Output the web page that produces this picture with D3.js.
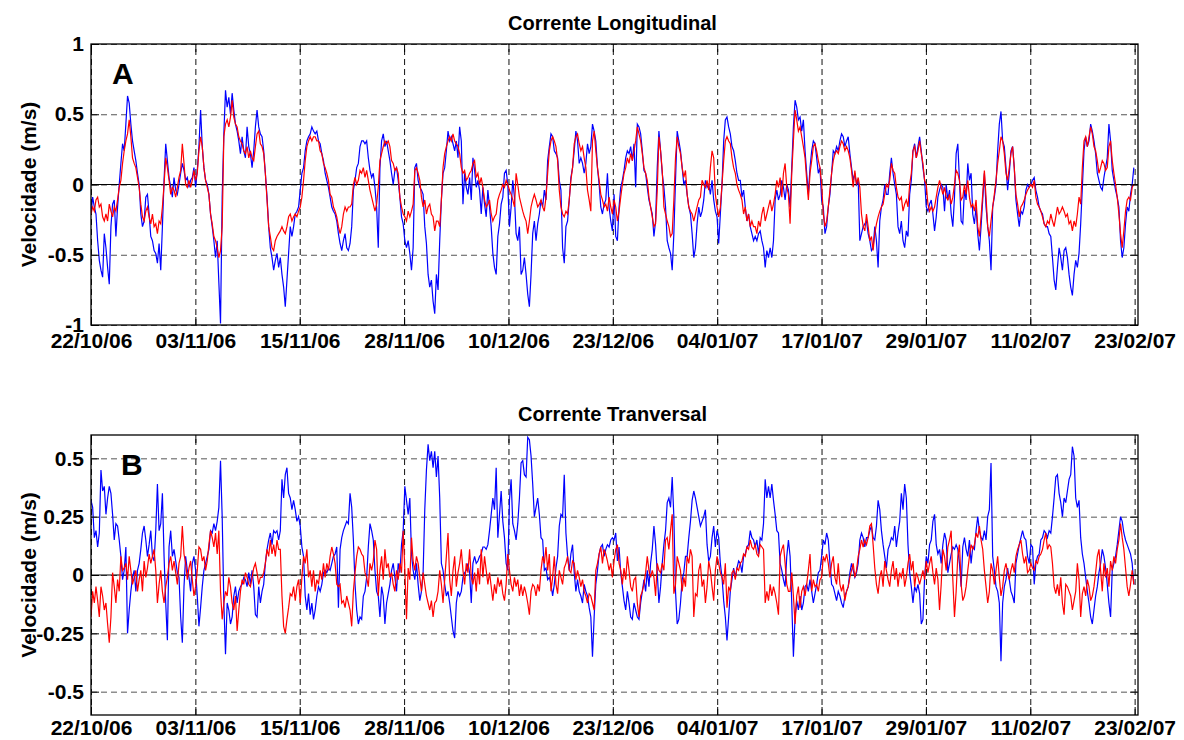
<!DOCTYPE html>
<html>
<head>
<meta charset="utf-8">
<script src="https://cdn.jsdelivr.net/npm/d3@7"></script>
<style>
  body { margin: 0; background: #fff; }
  text { font-family: "Liberation Sans", Arial, Helvetica, sans-serif; font-weight: bold; fill: #000; }
</style>
</head>
<body>
<div id="chart"></div>
<script>
// time axis: days since 22/10/06; series sampled every ~4.7 h (0.1973 day)
const sampleStepDays = 0.1973;
const tickStepDay = 12.4;
const dateLabels = ["22/10/06", "03/11/06", "15/11/06", "28/11/06", "10/12/06", "23/12/06",
  "04/01/07", "17/01/07", "29/01/07", "11/02/07", "23/02/07"];

// velocities in cm/s (blue and red records), drawn in m/s
const longBlue = [
  -21,-9,-16,-21,-40,-54,-61,-66,-35,-45,-59,-71,-30,-14,-11,-37,-16,0,15,29,
  24,43,63,58,43,31,24,17,8,0,-21,-30,-26,-9,-7,-21,-37,-40,-47,-49,
  -56,-42,-61,-30,3,29,17,5,-2,-9,5,-4,-7,0,8,15,10,3,5,-2,
  3,5,12,-2,10,27,53,27,12,3,0,-7,-21,-30,-40,-52,-40,-70,-99,-9,
  36,67,55,62,50,65,53,43,38,31,22,34,24,19,41,27,22,12,24,41,53,41,36,
  34,24,8,-9,-30,-45,-52,-61,-54,-49,-59,-52,-64,-73,-87,-68,-49,-30,-37,-30,
  -21,-19,-16,-4,8,12,24,31,34,36,41,38,36,38,31,29,22,17,8,3,
  -2,-9,-16,-19,-21,-26,-35,-42,-47,-40,-35,-45,-47,-42,-30,-4,3,12,15,27,
  31,31,29,31,19,10,5,8,-2,-16,-45,12,31,36,27,31,24,17,8,0,
  10,12,3,-9,-23,-28,-40,-45,-40,-49,-61,-45,12,15,3,-2,-4,-7,-30,-42,
  -64,-73,-68,-83,-92,-64,
  -75,-40,-11,8,12,24,38,31,34,29,24,31,19,41,31,-14,8,-2,-7,5,
  -11,19,10,-2,3,-4,-21,-2,-14,-23,-4,-16,-30,-49,-59,-64,-37,-28,-14,-9,
  8,10,0,-30,-16,3,-9,-35,-40,-30,-64,-61,-52,-64,-78,-87,-64,-35,-26,-40,
  -28,-21,-11,-16,-4,-11,17,27,36,34,24,22,19,3,-4,-45,-56,-30,-26,-11,
  5,12,24,38,31,15,19,15,8,15,29,22,27,43,38,31,12,0,-16,-21,
  -14,-11,8,-16,-26,-33,
  -7,-37,-40,-16,-2,3,10,19,24,22,27,17,29,-2,43,41,36,24,10,8,
  -2,-11,-16,-21,-37,-26,12,38,24,8,-2,-16,-40,-45,-49,-61,-35,3,38,31,
  24,12,0,3,-7,-16,-21,-35,-52,-45,-28,-16,-23,-19,-11,3,-2,0,-7,3,
  -11,-19,-23,-42,-21,0,31,46,48,41,36,27,24,17,8,3,3,-9,-4,-16,
  -26,-21,-30,-35,-40,-37,-40,-35,-33,-40,-45,-59,-47,-52,-45,-52,-40,-11,-4,-11,
  -7,3,-2,-11,0,-4,
  -16,12,41,60,55,46,48,38,46,24,8,-7,12,24,31,29,19,8,12,-11,
  -16,-35,-30,-16,-7,8,24,22,27,24,31,36,34,27,31,34,22,12,3,8,
  0,3,-40,-35,-30,-28,-26,-35,-40,-47,-45,-30,-40,-59,-26,-16,-11,0,-7,-7,
  8,19,8,0,-7,-30,-35,-26,-40,-45,-33,-37,-7,3,24,29,19,27,34,24,
  12,3,-16,-19,-14,-11,-21,-33,-23,-9,-4,0,-2,-19,0,-11,-4,-21,-30,-9,
  22,29,3,-26,-28,-4,
  -11,15,3,8,-21,-28,-16,-35,-47,-30,-11,8,-16,-30,-40,-61,-16,-9,0,24,
  43,52,31,27,12,-4,8,24,27,12,-11,-21,-30,-19,-21,-16,-4,0,-2,0,
  3,5,-4,-9,-16,-19,-21,-28,-30,-30,-35,-37,-52,-68,-75,-59,-45,-52,-61,-47,
  -45,-52,-64,-73,-79,-64,-54,-59,-49,-28,-2,24,34,27,31,43,38,31,22,8,
  3,-2,-4,5,12,19,43,31,10,3,-4,-9,-16,-40,-52,-45,-28,-16,-19,-7,
  0,12
];
const longRed = [
  -21,-16,-19,-11,-9,-16,-14,-23,-26,-21,-26,-14,-19,-23,-16,-19,-11,-2,3,15,
  24,31,36,46,34,19,15,12,5,-2,-14,-23,-26,-19,-16,-23,-28,-21,-30,-28,
  -35,-26,-28,-16,0,19,12,3,-7,-2,-4,-9,-2,5,10,29,15,0,-2,3,
  -2,3,10,3,8,24,34,27,12,3,-2,-7,-21,-28,-37,-40,-45,-52,-47,-30,
  34,43,46,41,48,60,48,43,41,34,31,29,24,22,27,19,24,19,17,27,36,38,29,
  27,22,8,-11,-30,-37,-45,-47,-40,-37,-35,-33,-30,-33,-35,-30,-23,-21,-26,-23,
  -21,-23,-19,-16,-9,3,17,27,31,34,31,34,34,31,31,24,22,15,12,8,
  3,-7,-9,-16,-19,-23,-30,-35,-30,-21,-16,-19,-16,-16,-14,0,5,0,3,10,
  8,12,5,10,3,-4,-9,-14,-19,-14,-2,17,22,27,31,29,31,27,17,15,
  10,12,8,-9,-16,-21,-23,-26,-19,-23,-19,-14,10,12,8,3,-9,-16,-11,-21,
  -16,-14,-21,-23,-33,-26,
  -26,-30,-11,12,22,27,31,34,31,36,31,29,27,22,12,8,10,3,5,8,
  10,15,17,5,8,0,5,-2,-11,-16,-14,-11,-21,-26,-23,-21,-11,-7,-4,0,
  -2,3,0,-4,-7,-11,-16,8,0,-9,-14,-19,-23,-26,-35,-26,-16,-11,-7,-11,
  -16,-14,-11,-16,-19,-9,8,24,31,34,31,27,17,-4,-16,-21,-23,-19,-21,-11,
  3,12,29,34,36,29,24,27,19,12,-4,-11,-19,31,38,24,12,3,-7,-11,
  -16,-14,-19,-9,-16,-21,
  -11,-16,-26,-19,-9,0,8,12,19,15,22,17,24,31,41,36,31,22,12,8,
  3,-9,-16,-23,-30,-28,-4,34,24,10,-16,-21,-26,-30,-37,-35,-11,19,34,27,
  22,12,5,10,-7,-16,-19,-21,-26,-21,-16,-11,-9,3,0,-2,3,-4,12,24,
  19,-7,-16,-23,-16,0,17,31,34,31,29,19,12,8,0,-4,-7,-11,-21,-16,
  -26,-21,-30,-26,-30,-30,-35,-26,-30,-21,-16,-26,-21,-16,-11,-19,-14,-7,3,-2,
  5,-9,8,15,-2,-7,
  -28,8,31,53,46,38,41,34,27,19,3,-11,8,17,27,29,24,17,12,0,
  -21,-30,-26,-16,-4,8,17,22,24,22,27,31,29,24,27,24,19,10,-2,10,
  0,5,-2,-21,-30,-33,-21,-30,-40,-37,-47,-35,-28,-23,-19,-16,-14,-7,0,-2,
  3,15,10,8,-2,-9,-11,-9,-19,-14,-11,-16,0,8,24,27,19,24,31,22,
  15,3,0,-14,-19,-16,-19,-16,-9,-2,3,-2,-7,-2,-9,-11,-7,-14,-9,0,
  10,8,3,-11,-9,0,
  -7,3,-9,-16,-14,-19,-11,-30,-37,-23,-7,10,-9,-30,-37,-26,-16,-7,3,15,
  24,34,31,22,8,3,12,22,27,12,-7,-14,-23,-16,-14,-11,-7,-4,-2,0,
  -2,3,-9,-14,-16,-19,-23,-28,-30,-26,-28,-21,-26,-30,-23,-16,-21,-19,-16,-19,
  -23,-21,-28,-26,-33,-26,-30,-21,-9,-14,12,31,34,27,34,41,36,27,24,17,
  8,12,17,15,10,12,27,31,17,8,0,-9,-21,-35,-45,-33,-19,-11,-9,-11,
  -2,0
];
const transBlue = [
  32,29,16,19,12,18,45,36,38,26,33,38,35,26,15,22,21,15,8,-2,
  2,12,-25,-15,-7,-1,2,-7,2,5,11,18,21,15,8,13,19,8,6,19,
  39,19,22,35,8,-12,-28,12,19,8,11,6,1,-1,-18,-29,-5,8,2,-1,
  -7,5,8,2,-9,-22,-14,-5,2,5,8,11,19,18,22,19,23,29,49,25,
  -12,-34,-12,-15,-21,-18,-9,-5,-12,-7,-5,-4,-1,-2,-5,1,-4,2,-5,-17,-18,-5,-12,
  -7,-4,5,11,15,18,13,19,18,19,15,19,41,33,43,46,35,33,28,32,
  28,23,25,21,12,8,-9,-15,-8,-17,-12,-19,-15,-9,-5,-7,-4,1,2,1,
  3,2,5,8,9,12,-14,11,16,19,21,23,22,35,29,15,-4,-15,-21,-18,
  -19,-9,-7,-1,12,22,19,15,2,-7,-9,-18,-5,-9,-21,-12,-8,-4,2,5,
  -1,-7,5,1,13,19,38,32,26,33,9,2,-2,5,-4,-11,-7,1,28,45,
  56,49,53,46,53,42,
  51,33,5,2,-4,-9,-7,-12,-18,-24,-27,-12,-7,-9,-7,-1,1,2,5,1,
  -12,5,8,5,6,8,9,12,12,11,13,19,26,33,28,46,16,26,36,23,
  16,5,2,32,41,22,19,15,22,33,48,49,43,42,59,58,51,39,25,29,
  33,26,16,15,2,3,-2,-1,-4,-9,-4,3,8,21,26,25,43,18,8,2,
  9,13,1,-7,-2,-7,-9,-12,-4,-7,-9,-14,-18,-35,-18,-4,2,9,12,13,
  8,11,13,12,15,16,
  15,18,6,12,1,-5,-11,-15,-7,-12,-18,-19,-12,-15,-18,-19,-12,-7,-2,-7,
  2,-5,5,11,21,13,1,-12,-5,5,13,19,31,33,29,42,25,-7,-21,-19,
  -12,-2,1,8,8,16,23,32,36,33,29,25,21,23,25,28,13,6,8,16,
  21,12,19,16,5,-1,-11,-18,-28,-18,-7,-2,3,-1,3,6,5,1,8,9,
  12,13,19,16,15,12,15,9,16,15,22,41,33,38,33,39,32,26,19,18,
  5,2,-2,-5,8,15,
  8,-12,-35,-18,-11,-15,-9,-15,-12,-5,-4,-7,-2,-7,-12,-8,-4,1,2,8,
  15,13,18,15,5,-4,-5,-8,-11,-7,-9,-12,-14,-9,-7,-5,1,5,2,-1,
  1,5,15,18,16,12,16,16,19,21,16,15,21,32,28,19,13,8,3,11,
  13,16,15,21,12,18,23,35,28,39,33,13,1,-5,-12,-5,-7,-4,-8,-21,
  -19,-1,8,5,13,15,23,26,13,9,11,5,13,18,15,1,5,9,12,11,
  13,11,5,-5,12,16,
  11,8,15,5,12,11,19,25,19,16,15,19,15,25,28,48,8,2,-5,-7,
  -12,-37,-12,-5,-2,3,-2,-7,-9,-12,5,9,13,16,19,16,15,8,5,13,
  12,-4,5,8,9,15,16,19,18,16,19,18,25,33,42,43,35,31,25,33,
  31,36,41,43,55,51,33,29,32,16,9,5,-1,-7,-12,-18,-21,-15,-9,-5,
  1,5,11,8,3,-4,-12,-18,2,5,8,13,19,25,23,18,15,13,11,9,
  5,-4
];
const transRed = [
  -18,-7,-12,-5,-11,-18,-5,-9,-15,-12,-21,-29,-18,1,-5,-12,-2,-7,8,2,
  3,5,-2,8,2,-4,-1,2,-7,-2,2,-7,6,-1,3,9,5,8,11,2,
  -12,-4,2,-7,-12,-5,-1,5,8,2,6,1,-4,5,8,21,9,5,-2,3,
  6,-2,-9,-5,2,12,11,6,8,2,6,13,19,16,12,18,9,19,-7,-19,
  -12,-7,-9,-1,-5,-12,-15,-9,-24,-15,-7,-2,-4,1,-1,-4,-5,-1,3,5,1,-4,-1,
  -1,1,5,11,8,15,9,13,8,15,11,11,-9,-22,-25,-19,-14,-8,-9,-5,
  -11,-5,-2,-12,-1,8,5,11,-1,2,-5,2,-7,-2,-4,2,-2,5,-1,5,
  2,8,12,9,5,-4,-5,-4,-12,-11,-14,-9,-12,-15,-22,-7,1,8,12,11,
  9,8,1,-1,-5,5,2,6,15,11,-9,2,8,-2,11,3,5,-1,1,-4,
  -7,2,-2,5,1,19,2,-19,3,-2,16,6,2,8,5,-1,-7,1,-4,-9,
  -12,-15,-11,-18,-12,-11,
  -7,2,-4,-12,-2,8,18,-2,-9,2,8,-5,1,5,11,2,-4,5,1,11,
  -1,-4,1,-7,3,-4,11,-1,8,2,-4,1,-5,-11,-4,-8,-1,-5,-2,-8,
  -11,-4,9,2,-4,-7,-1,-5,-2,-9,-4,-9,-5,-8,-12,-17,-7,-4,-5,-9,
  -4,-7,2,8,5,12,2,9,-7,-1,8,-4,-8,2,-1,-4,3,5,8,2,
  1,6,5,-2,2,-1,-5,-2,-7,-9,-12,-8,-9,-12,-15,2,5,9,12,5,
  11,9,6,2,5,-1,
  6,11,13,5,2,-4,3,-2,8,2,-5,-7,-2,-1,-12,-18,-9,-7,-4,1,
  8,2,-1,2,-1,-9,5,2,1,5,2,15,16,11,19,26,-8,-4,8,5,
  2,-7,-1,-5,8,5,11,8,-18,-8,-9,2,5,-5,-2,-12,-5,6,2,-5,
  -11,2,8,5,1,-1,-4,5,-14,-5,-7,1,2,-2,3,2,5,6,9,8,
  12,11,15,12,11,13,9,8,13,12,11,-12,-7,-11,-4,-9,-5,-8,-12,-17,
  8,11,13,5,-4,-7,
  -7,1,-9,-21,-9,-5,-14,-7,-5,-9,-4,2,9,-7,-2,-5,-4,-7,-2,-1,
  8,6,9,5,-1,5,8,-1,-4,5,-4,-7,-4,-11,-7,-5,-1,2,5,-1,
  2,8,11,15,12,15,13,16,21,22,13,3,-4,-8,-1,2,-5,6,2,-2,
  -5,2,6,-2,3,-5,1,-1,3,-5,-1,5,9,2,6,-5,1,-1,-4,-1,
  2,-2,6,1,5,8,1,-4,3,-2,-15,-4,11,8,2,12,15,19,-2,-18,
  -7,8,13,-4,-11,-9,
  -5,2,8,13,11,13,18,16,21,15,11,2,-5,-12,-7,5,2,-4,2,8,
  -1,-9,-5,2,5,1,-2,2,5,1,8,11,13,15,9,5,8,1,2,5,
  3,2,6,5,8,9,11,15,18,11,13,12,5,-5,-8,-4,-9,-1,-12,-17,
  -4,-5,-7,-9,-15,-11,-7,5,-2,-18,-8,-5,-9,-2,-5,-11,-9,-5,1,8,
  11,2,-7,5,-1,3,-5,6,2,8,5,11,15,22,16,11,3,-5,-9,-4,
  2,-4
];

const longTicks = [1, 0.5, 0, -0.5, -1];
const longTickLabels = ["1", "0.5", "0", "-0.5", "-1"];
const transTicks = [0.5, 0.25, 0, -0.25, -0.5];
const transTickLabels = ["0.5", "0.25", "0", "-0.25", "-0.5"];

const width = 1184, height = 740;
const left = 91, right = 1138;

const svg = d3.select("#chart").append("svg")
  .attr("width", width)
  .attr("height", height);

const x = d3.scaleLinear().domain([0, 124.4]).range([left, right]);
const xTicks = dateLabels.map((d, i) => i * tickStepDay);

function drawPanel(cfg) {
  const y = d3.scaleLinear().domain(cfg.domain).range([cfg.bottom, cfg.top]);
  const h = cfg.bottom - cfg.top;
  const g = svg.append("g");

  g.append("clipPath").attr("id", cfg.id)
    .append("rect")
    .attr("x", left).attr("y", cfg.top)
    .attr("width", right - left).attr("height", h);

  // dashed vertical grid
  g.append("g")
    .attr("transform", `translate(0,${cfg.bottom})`)
    .call(d3.axisBottom(x).tickValues(xTicks).tickSize(-h).tickFormat(""))
    .call(a => a.select(".domain").remove())
    .selectAll("line")
    .attr("stroke", "#111")
    .attr("stroke-dasharray", "6,4");

  // dashed horizontal grid
  g.append("g")
    .attr("transform", `translate(${left},0)`)
    .call(d3.axisLeft(y).tickValues(cfg.ticks).tickSize(-(right - left)).tickFormat(""))
    .call(a => a.select(".domain").remove())
    .selectAll("line")
    .attr("stroke", "#555")
    .attr("stroke-dasharray", "6,4");

  // zero line
  g.append("line")
    .attr("x1", left).attr("x2", right)
    .attr("y1", y(0)).attr("y2", y(0))
    .attr("stroke", "#000").attr("stroke-width", 1.2);

  const line = d3.line()
    .x((d, i) => x(i * sampleStepDays))
    .y(d => y(d / 100));

  g.append("path")
    .datum(cfg.blue)
    .attr("clip-path", `url(#${cfg.id})`)
    .attr("d", line)
    .attr("fill", "none")
    .attr("stroke", "#0000ff")
    .attr("stroke-width", 1.2);

  g.append("path")
    .datum(cfg.red)
    .attr("clip-path", `url(#${cfg.id})`)
    .attr("d", line)
    .attr("fill", "none")
    .attr("stroke", "#ff0000")
    .attr("stroke-width", 1.2);

  // inward ticks on all four sides
  const tickLen = 8;
  const tickAxes = [
    [d3.axisLeft(y).tickValues(cfg.ticks), `translate(${left},0)`],
    [d3.axisRight(y).tickValues(cfg.ticks), `translate(${right},0)`],
    [d3.axisTop(x).tickValues(xTicks), `translate(0,${cfg.top})`],
    [d3.axisBottom(x).tickValues(xTicks), `translate(0,${cfg.bottom})`]
  ];
  tickAxes.forEach(([ax, tr]) => {
    g.append("g")
      .attr("transform", tr)
      .call(ax.tickSize(-tickLen).tickFormat(""))
      .call(a => a.select(".domain").remove())
      .selectAll("line").attr("stroke", "#000");
  });

  // frame
  g.append("rect")
    .attr("x", left).attr("y", cfg.top)
    .attr("width", right - left).attr("height", h)
    .attr("fill", "none")
    .attr("stroke", "#000")
    .attr("stroke-width", 1.3);

  // tick labels
  const yAx = g.append("g")
    .attr("transform", `translate(${left},0)`)
    .call(d3.axisLeft(y).tickValues(cfg.ticks).tickSize(0).tickPadding(7)
      .tickFormat((d, i) => cfg.tickLabels[i]));
  yAx.select(".domain").remove();
  yAx.selectAll("text")
    .style("font-family", "'Liberation Sans', Arial, sans-serif")
    .style("font-weight", "bold")
    .style("font-size", "21px");

  const xAx = g.append("g")
    .attr("transform", `translate(0,${cfg.bottom})`)
    .call(d3.axisBottom(x).tickValues(xTicks).tickSize(0).tickPadding(cfg.labelPad)
      .tickFormat((d, i) => dateLabels[i]));
  xAx.select(".domain").remove();
  xAx.selectAll("text")
    .style("font-family", "'Liberation Sans', Arial, sans-serif")
    .style("font-weight", "bold")
    .style("font-size", "21px");

  // title
  g.append("text")
    .attr("x", (left + right) / 2 - 2)
    .attr("y", cfg.top - 14)
    .attr("text-anchor", "middle")
    .style("font-size", "20px")
    .text(cfg.title);

  // y label
  g.append("text")
    .attr("transform", `translate(36,${(cfg.top + cfg.bottom) / 2}) rotate(-90)`)
    .attr("text-anchor", "middle")
    .style("font-size", "21px")
    .text("Velocidade (m/s)");

  // panel letter
  g.append("text")
    .attr("x", cfg.letterX)
    .attr("y", cfg.top + 40)
    .style("font-size", "30px")
    .text(cfg.letter);
}

drawPanel({
  id: "clipA", top: 44, bottom: 325, domain: [-1, 1],
  ticks: longTicks, tickLabels: longTickLabels, labelPad: 8,
  title: "Corrente Longitudinal", letter: "A", letterX: 112,
  blue: longBlue, red: longRed
});

drawPanel({
  id: "clipB", top: 435, bottom: 715, domain: [-0.6, 0.6],
  ticks: transTicks, tickLabels: transTickLabels, labelPad: 5,
  title: "Corrente Tranversal", letter: "B", letterX: 121,
  blue: transBlue, red: transRed
});
</script>
</body>
</html>
